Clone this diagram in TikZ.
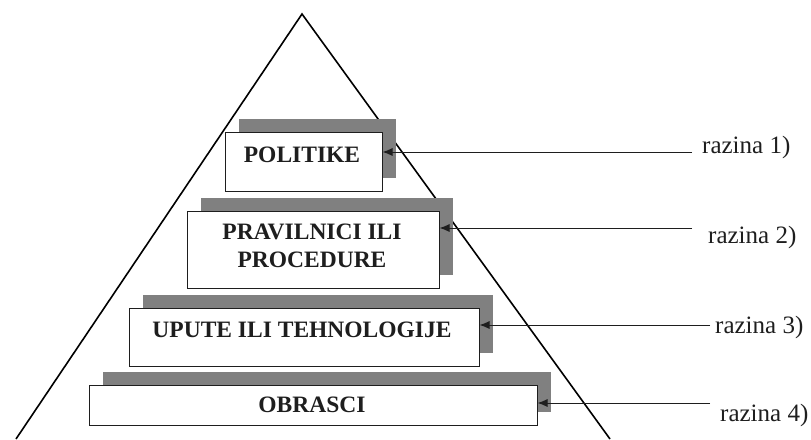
\documentclass[tikz,border=0pt]{standalone}
\usepackage{fontspec}
\setmainfont{Liberation Serif}
\usetikzlibrary{arrows.meta,shadows}
\definecolor{shadowgray}{RGB}{128,128,128}
\definecolor{inkgray}{RGB}{30,30,30}

\begin{document}
\begin{tikzpicture}[x=1pt, y=-1pt, >={Latex[length=10pt,width=8pt]},
    panel/.style={rectangle, draw=inkgray, fill=white, line width=1pt, inner sep=0pt,
        general shadow={fill=shadowgray, shadow xshift=13.5pt, shadow yshift=13pt}},
    title/.style={font=\fontsize{23.5}{28}\selectfont\bfseries, text=inkgray, align=center, inner sep=0pt},
    level/.style={font=\fontsize{25}{30}\selectfont, text=inkgray, anchor=west, inner sep=0pt},
    edge/.style={->, line width=1pt, draw=inkgray}]

\useasboundingbox (0,0) rectangle (811,439);

% pyramid
\draw [line width=1.6pt, black] (16,439) -- (302,14) -- (610,439);

% blocks
\node [panel, minimum width=157, minimum height=59] (politike) at (303.5,161.5) {};
\node [panel, minimum width=252, minimum height=77] (pravilnici) at (313,249.5) {};
\node [panel, minimum width=350, minimum height=58] (upute) at (304,337) {};
\node [panel, minimum width=448, minimum height=40] (obrasci) at (313,405) {};

\node [title] (politike_txt) at (302,155) {POLITIKE};
\node [title] (pravilnici_txt) at (312,246) {PRAVILNICI ILI\\PROCEDURE};
\node [title] (upute_txt) at (302,330) {UPUTE ILI TEHNOLOGIJE};
\node [title] (obrasci_txt) at (312,405) {OBRASCI};

% levels
\coordinate (r1) at (692,152);
\coordinate (r2) at (692,228);
\coordinate (r3) at (710,325);
\coordinate (r4) at (710,403);

\node [level] (razina1) at (702,147) {razina 1)};
\node [level] (razina2) at (708,237) {razina 2)};
\node [level] (razina3) at (715,327) {razina 3)};
\node [level] (razina4) at (720,415) {razina 4)};

\draw [edge] (r1) -- (r1 -| politike.east);
\draw [edge] (r2) -- (r2 -| pravilnici.east);
\draw [edge] (r3) -- (r3 -| upute.east);
\draw [edge] (r4) -- (r4 -| obrasci.east);

\end{tikzpicture}
\end{document}
